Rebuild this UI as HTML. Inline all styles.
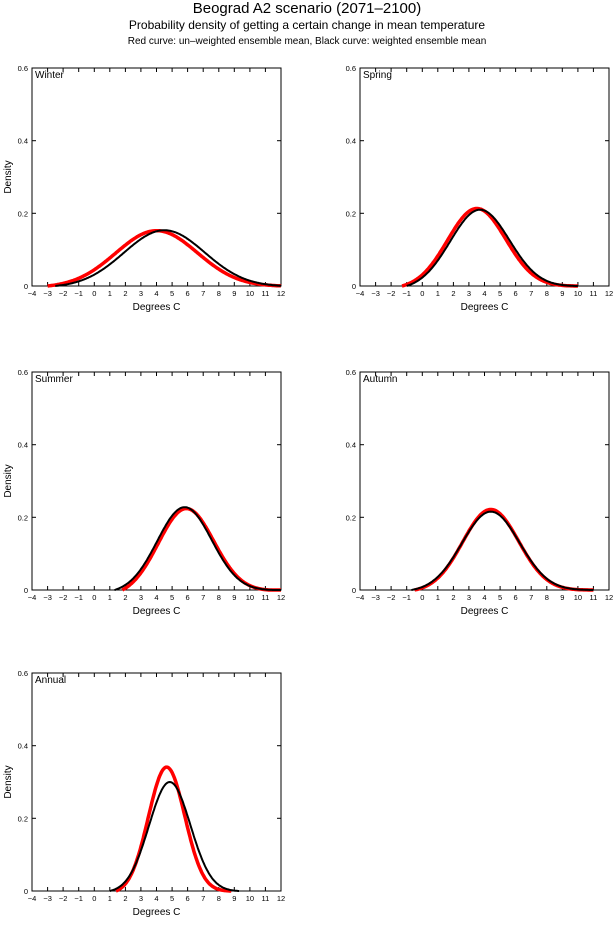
<!DOCTYPE html><html><head><style>body{margin:0;background:#fff}svg text{font-family:"Liberation Sans",sans-serif}</style></head><body>
<svg id="s" width="614" height="920" xmlns="http://www.w3.org/2000/svg">
<text x="307" y="13" font-size="15" text-anchor="middle">Beograd A2 scenario (2071–2100)</text>
<text x="307" y="29" font-size="12" text-anchor="middle">Probability density of getting a certain change in mean temperature</text>
<text x="307" y="44" font-size="10" text-anchor="middle">Red curve: un–weighted ensemble mean, Black curve: weighted ensemble mean</text>
</svg>
<script>
const s=document.getElementById('s');let h='';
const P=[[32,68,'Winter',[4,2.62,-3,12.3],[4.5,2.6,-2.5,12.3],1],[360,68,'Spring',[3.5,1.87,-1.3,10],[3.7,1.9,-1,10],0],
[32,372,'Summer',[5.9,1.78,1.8,13],[5.8,1.75,1.3,13],1],[360,372,'Autumn',[4.4,1.8,-0.5,11],[4.4,1.85,-0.7,11],0],
[32,673,'Annual',[4.65,1.17,1.4,8.8],[4.85,1.33,1,9.3],1]];
for(const [L,T,name,r,b,lab] of P){const W=249,H=218,B=T+H;
const X=v=>L+(v+4)*W/16,Y=d=>B-d*H/0.6;
h+=`<rect x="${L}" y="${T}" width="${W}" height="${H}" fill="none" stroke="#000"/>`;
h+=`<text x="${L+3}" y="${T+10}" font-size="10">${name}</text>`;
for(let i=-4;i<=12;i++){const x=X(i).toFixed(1);h+=`<line x1="${x}" y1="${B}" x2="${x}" y2="${B-4}" stroke="#000"/><line x1="${x}" y1="${T}" x2="${x}" y2="${T+4}" stroke="#000"/><text x="${x}" y="${B+10}" font-size="7.5" text-anchor="middle">${i<0?'−'+(-i):i}</text>`;}
for(const d of [0,0.2,0.4,0.6]){const y=Y(d).toFixed(1);h+=`<line x1="${L}" y1="${y}" x2="${L+4}" y2="${y}" stroke="#000"/><line x1="${L+W}" y1="${y}" x2="${L+W-4}" y2="${y}" stroke="#000"/><text x="${L-4}" y="${+y+3}" font-size="7.5" text-anchor="end">${d?d:0}</text>`;}
h+=`<text x="${L+W/2}" y="${B+24}" font-size="10" text-anchor="middle">Degrees C</text>`;
if(lab)h+=`<text transform="translate(${L-21},${T+H/2}) rotate(-90)" font-size="10" text-anchor="middle">Density</text>`;
const cur=(c,col,w)=>{const g=v=>Math.exp(-0.5*((v-c[0])/c[1])**2)/(c[1]*2.5066);
const a=c[2],bb=c[3],ga=g(a),gb=g(bb),pk=g(c[0]);const base=v=>ga+(gb-ga)*(v-a)/(bb-a);
const sc=pk/(pk-base(c[0]));let p='';
for(let v=a;v<=Math.min(bb,12)+1e-9;v+=0.05){let d=(g(v)-base(v))*sc;if(d<0)d=0;p+=(p?'L':'M')+X(v).toFixed(1)+','+Y(d).toFixed(1);}
h+=`<path d="${p}" fill="none" stroke="${col}" stroke-width="${w}"/>`;};
cur(r,'#f00',3.5);cur(b,'#000',2);}
s.insertAdjacentHTML('beforeend',h);
</script></body></html>
